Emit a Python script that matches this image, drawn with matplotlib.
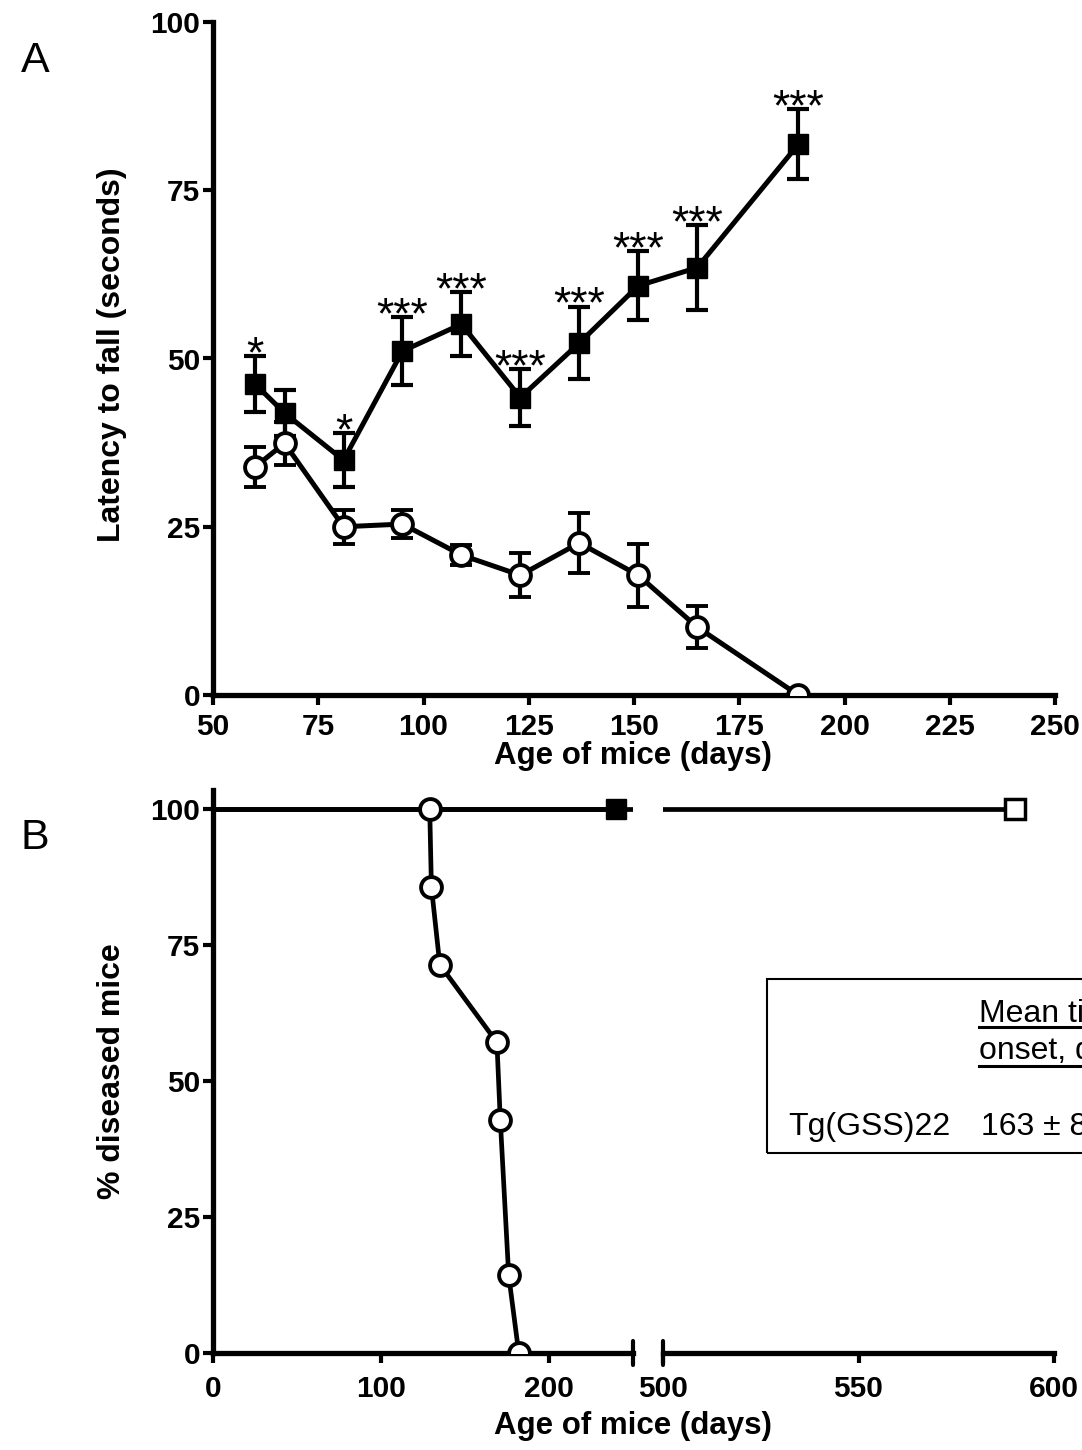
import numpy as np
import matplotlib
matplotlib.use('Agg')
import matplotlib.pyplot as plt
from matplotlib.lines import Line2D
from matplotlib.patches import Rectangle

plt.rcParams['font.family'] = ['Liberation Sans', 'DejaVu Sans']

# panel A: latency to fall vs age
age_a = [60, 67, 81, 95, 109, 123, 137, 151, 165, 189]
sq_mean = [46.2, 41.9, 34.9, 51.1, 55.1, 44.2, 52.3, 60.8, 63.5, 81.8]
sq_sem = [4.1, 3.4, 4.0, 5.1, 4.8, 4.2, 5.4, 5.1, 6.3, 5.2]
circ_mean = [33.9, 37.4, 25.0, 25.4, 20.8, 17.8, 22.6, 17.8, 10.1, 0.0]
circ_sem = [3.0, 3.2, 2.5, 2.1, 1.5, 3.3, 4.5, 4.7, 3.1, 0.0]
stars = ['*', '', '*', '***', '***', '***', '***', '***', '***', '***']

# panel B: % diseased mice vs age
onset_days = [129, 130, 135, 169, 171, 176, 182]
onset_pct = [100, 85.7, 71.4, 57.1, 42.9, 14.3, 0]
filled_days = [0, 240]
filled_pct = [100, 100]
open_days = [0, 590]
open_pct = [100, 100]

W, H = 1082, 1450
fig = plt.figure(figsize=(W / 100, H / 100), dpi=100)

def fx(px):
    return px / W

def fy(py):
    return 1 - py / H

spine_lw = 3.8
line_lw = 3.6
tick_fs = 21.5
lab_fs = 22.5

def style(ax, left=True, xpad=9):
    for s in ['top', 'right']:
        ax.spines[s].set_visible(False)
    ax.spines['bottom'].set_linewidth(spine_lw)
    ax.spines['left'].set_linewidth(spine_lw)
    if not left:
        ax.spines['left'].set_visible(False)
    ax.tick_params(direction='out', length=7, width=3, labelsize=tick_fs)
    ax.tick_params(axis='x', pad=xpad)
    ax.tick_params(axis='y', pad=2)
    for lab in ax.get_xticklabels() + ax.get_yticklabels():
        lab.set_fontweight('bold')

# ---- panel A
axA = fig.add_axes([fx(213), fy(695), fx(1055 - 213), (695 - 22) / H])
axA.errorbar(age_a, sq_mean, yerr=sq_sem, fmt='s-', color='k', ms=14, lw=line_lw,
             elinewidth=3, capsize=8, capthick=3, zorder=3)
axA.errorbar(age_a, circ_mean, yerr=circ_sem, fmt='o-', color='k', mfc='white', mec='k',
             mew=2.8, ms=15, lw=line_lw, elinewidth=3, capsize=8, capthick=3, zorder=4)
for x, m, e, s in zip(age_a, sq_mean, sq_sem, stars):
    if s:
        axA.annotate(s, (x, m + e), xytext=(0, -8), textcoords='offset points',
                     ha='center', va='baseline', fontsize=32)
axA.set_xlim(50, 250)
axA.set_ylim(0, 100)
axA.set_xticks(np.arange(50, 251, 25))
axA.set_yticks([0, 25, 50, 75, 100])
style(axA, xpad=6)

fig.text(fx(633), fy(756), 'Age of mice (days)', ha='center', va='center',
         fontsize=lab_fs, fontweight='bold')
fig.text(fx(112), fy(355), 'Latency to fall (seconds)', ha='center', va='center',
         rotation=90, fontsize=lab_fs + 0.5, fontweight='bold')
fig.text(fx(35), fy(61), 'A', ha='center', va='center', fontsize=31)
fig.text(fx(35), fy(838), 'B', ha='center', va='center', fontsize=31)

# ---- panel B (broken x axis)
bB = fy(1353)
hB = (1353 - 790) / H
axL = fig.add_axes([fx(213), bB, fx(633 - 213), hB])
axR = fig.add_axes([fx(663), bB, fx(1054 - 663), hB])

for ax in (axL, axR):
    ax.plot(open_days, open_pct, '-', color='k', lw=3.4, zorder=2)
    ax.plot(open_days[-1:], open_pct[-1:], 's', color='k', mfc='white', mew=2.5, ms=14, zorder=3)
    ax.plot(filled_days, filled_pct, '-', color='k', lw=3.4, zorder=2)
    ax.plot(filled_days[-1:], filled_pct[-1:], 's', color='k', ms=14, zorder=3)
    ax.plot(onset_days, onset_pct, 'o-', color='k', mfc='white', mec='k', mew=2.8,
            ms=15, lw=3.4, zorder=4)
    ax.set_ylim(0, 103.5)

axL.set_xlim(0, 250)
axL.set_xticks([0, 100, 200])
axL.set_yticks([0, 25, 50, 75, 100])
style(axL)

axR.set_xlim(500, 600)
axR.set_xticks([500, 550, 600])
axR.set_yticks([])
style(axR, left=False)

# break caps
d = 0.022
axL.plot([1, 1], [-d, d], transform=axL.transAxes, color='k', lw=3, clip_on=False,
         solid_capstyle='round')
axR.plot([0, 0], [-d, d], transform=axR.transAxes, color='k', lw=3, clip_on=False,
         solid_capstyle='round')

fig.text(fx(633), fy(1426), 'Age of mice (days)', ha='center', va='center',
         fontsize=lab_fs, fontweight='bold')
fig.text(fx(112), fy(1071), '% diseased mice', ha='center', va='center',
         rotation=90, fontsize=lab_fs + 0.5, fontweight='bold')

# inset box
fig.add_artist(Rectangle((fx(767), fy(1153)), fx(400), (1153 - 979) / H,
                         transform=fig.transFigure, fill=False, lw=1.5, ec='k'))
box_fs = 23
t1 = fig.text(fx(979), fy(1022), 'Mean time to', ha='left', va='baseline', fontsize=box_fs)
t2 = fig.text(fx(979), fy(1059), 'onset, days', ha='left', va='baseline', fontsize=box_fs)
fig.text(fx(788), fy(1135), 'Tg(GSS)22', ha='left', va='baseline', fontsize=box_fs)
fig.text(fx(981), fy(1135), '163 ± 8', ha='left', va='baseline', fontsize=box_fs)

r = fig.canvas.get_renderer()
for t, uy in ((t1, 1027), (t2, 1066)):
    bb = t.get_window_extent(r)
    fig.add_artist(Line2D([bb.x0 / W, bb.x1 / W], [fy(uy), fy(uy)],
                          transform=fig.transFigure, color='k', lw=2.2))

fig.savefig('out.png', dpi=100)
